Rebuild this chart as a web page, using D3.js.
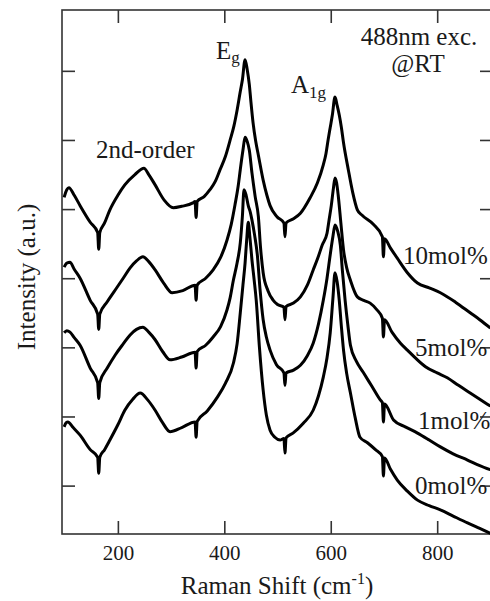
<!DOCTYPE html>
<html>
<head>
<meta charset="utf-8">
<script src="https://cdn.jsdelivr.net/npm/d3@7"></script>
<style>
  body { margin: 0; background: #fff; }
</style>
</head>
<body>
<svg id="chart" width="490" height="601"></svg>
<script>
// Raman shift (cm-1) vs intensity (a.u., offset)
const s10 = [[99,4.17],[104,4.28],[108,4.31],[118,4.20],[129,4.05],[148,3.81],[162,3.66],[164,3.42],[166,3.66],[175,3.80],[185,3.99],[200,4.20],[213,4.35],[232,4.50],[249,4.59],[258,4.50],[270,4.35],[287,4.13],[304,4.02],[320,4.04],[341,4.09],[345,4.11],[347,3.88],[349,4.11],[362,4.18],[373,4.28],[383,4.40],[392,4.57],[402,4.76],[411,5.00],[418,5.20],[424,5.43],[430,5.70],[434,5.87],[439,6.16],[443,6.02],[447,5.80],[450,5.55],[454,5.25],[459,4.98],[464,4.78],[473,4.42],[480,4.20],[486,4.05],[499,3.89],[512,3.80],[514,3.60],[516,3.80],[530,3.86],[543,3.94],[561,4.16],[575,4.38],[586,4.64],[591,4.80],[595,5.00],[599,5.18],[603,5.36],[608,5.62],[612,5.50],[616,5.36],[620,5.18],[624,4.96],[633,4.57],[641,4.25],[650,3.99],[659,3.91],[680,3.78],[697,3.60],[699,3.31],[701,3.57],[712,3.44],[725,3.29],[744,3.08],[763,2.93],[785,2.86],[806,2.79],[835,2.65],[862,2.50],[880,2.40],[900,2.28]];
const s5 = [[99,3.16],[104,3.22],[110,3.23],[118,3.13],[129,3.00],[148,2.68],[162,2.48],[164,2.26],[166,2.48],[180,2.66],[195,2.83],[210,3.00],[223,3.15],[235,3.25],[247,3.31],[258,3.24],[270,3.12],[286,2.93],[302,2.79],[322,2.82],[345,2.90],[347,2.68],[349,2.90],[365,3.00],[379,3.12],[393,3.30],[405,3.55],[413,3.78],[420,4.06],[426,4.33],[430,4.57],[435,4.85],[439,5.04],[443,4.98],[447,4.85],[452,4.52],[458,4.18],[464,3.89],[468,3.45],[473,3.08],[482,2.82],[492,2.68],[500,2.62],[512,2.58],[514,2.40],[516,2.59],[530,2.64],[543,2.73],[556,2.90],[567,3.12],[576,3.30],[584,3.48],[593,3.65],[597,3.85],[601,4.05],[605,4.30],[608,4.45],[611,4.38],[614,4.20],[619,3.80],[624,3.41],[630,3.15],[637,2.97],[650,2.73],[662,2.68],[674,2.64],[686,2.55],[697,2.42],[699,2.15],[701,2.40],[715,2.22],[731,2.06],[744,1.96],[760,1.84],[778,1.72],[800,1.63],[819,1.56],[840,1.45],[862,1.34],[880,1.25],[900,1.15]];
const s1 = [[99,2.21],[104,2.24],[110,2.22],[118,2.14],[129,2.03],[148,1.70],[162,1.49],[164,1.26],[166,1.49],[180,1.70],[195,1.89],[210,2.05],[223,2.18],[235,2.26],[247,2.29],[258,2.22],[270,2.11],[284,1.94],[298,1.82],[320,1.86],[345,1.93],[347,1.70],[349,1.94],[365,2.03],[379,2.15],[393,2.30],[405,2.54],[411,2.72],[417,2.97],[424,3.22],[430,3.51],[434,3.90],[437,4.28],[441,4.20],[445,4.05],[449,3.95],[452,3.84],[457,3.62],[462,3.34],[467,2.85],[473,2.40],[479,2.15],[486,1.96],[498,1.75],[512,1.63],[514,1.45],[516,1.63],[530,1.67],[543,1.74],[556,1.88],[567,2.06],[577,2.34],[586,2.68],[593,3.00],[599,3.34],[604,3.60],[608,3.77],[613,3.68],[618,3.48],[622,3.10],[627,2.68],[632,2.33],[637,2.03],[648,1.80],[661,1.64],[677,1.44],[693,1.24],[697,1.20],[699,0.92],[701,1.18],[718,0.95],[740,0.85],[763,0.76],[785,0.66],[806,0.56],[830,0.46],[857,0.37],[880,0.29],[900,0.23]];
const s0 = [[99,0.85],[103,0.91],[106,0.92],[116,0.84],[129,0.73],[148,0.52],[162,0.41],[164,0.18],[166,0.41],[175,0.52],[185,0.66],[200,0.88],[213,1.09],[228,1.25],[242,1.34],[256,1.24],[270,1.09],[284,0.91],[298,0.78],[320,0.84],[345,0.92],[347,0.70],[349,0.93],[368,1.08],[387,1.28],[402,1.48],[417,1.77],[424,2.05],[430,2.50],[435,2.90],[439,3.22],[442,3.55],[445,3.81],[448,3.60],[452,3.26],[456,2.98],[460,2.68],[466,2.00],[473,1.38],[479,1.02],[486,0.80],[495,0.70],[505,0.66],[512,0.68],[514,0.47],[516,0.69],[529,0.76],[548,0.90],[567,1.09],[577,1.30],[586,1.57],[593,1.85],[599,2.21],[604,2.70],[608,3.08],[612,2.95],[616,2.68],[620,2.30],[624,1.96],[630,1.62],[637,1.34],[646,0.98],[655,0.70],[669,0.62],[684,0.52],[697,0.42],[699,0.14],[701,0.40],[712,0.24],[725,0.08],[744,-0.08],[763,-0.21],[785,-0.29],[806,-0.35],[830,-0.44],[857,-0.54],[880,-0.62],[900,-0.69]];

const seriesNames = ["10mol%", "5mol%", "1mol%", "0mol%"];
const xTicks = [200, 400, 600, 800];
const yTicks = [0, 1, 2, 3, 4, 5, 6];

function drawing_chart() {
    const svg = d3.select("#chart");
    const margin = {left: 62, top: 10, right: 491, bottom: 534};
    const ink = "#1a1a1a";
    const serif = "'Liberation Serif', 'Times New Roman', Times, serif";

    const x = d3.scaleLinear().domain([95, 900]).range([margin.left, 490.4]);
    const y = d3.scaleLinear().domain([-0.7, 6.88]).range([margin.bottom, margin.top]);

    // frame
    svg.append("rect")
        .attr("x", margin.left)
        .attr("y", margin.top)
        .attr("width", margin.right - margin.left)
        .attr("height", margin.bottom - margin.top)
        .attr("fill", "none")
        .attr("stroke", "#333")
        .attr("stroke-width", 1.6);

    // inward ticks on all four sides
    const tl = 13;
    svg.append("g")
        .attr("transform", `translate(0,${margin.bottom})`)
        .call(d3.axisBottom(x).tickValues(xTicks).tickSizeInner(-tl).tickSizeOuter(0).tickPadding(11))
        .call(g => g.select(".domain").remove())
        .call(g => g.selectAll("line").attr("stroke", "#333").attr("stroke-width", 1.6))
        .call(g => g.selectAll("text").attr("fill", ink).attr("font-size", 21).style("font-family", serif));

    svg.append("g")
        .attr("transform", `translate(0,${margin.top})`)
        .call(d3.axisTop(x).tickValues(xTicks).tickSizeInner(-tl).tickSizeOuter(0).tickFormat(""))
        .call(g => g.select(".domain").remove())
        .call(g => g.selectAll("line").attr("stroke", "#333").attr("stroke-width", 1.6));

    svg.append("g")
        .attr("transform", `translate(${margin.left},0)`)
        .call(d3.axisLeft(y).tickValues(yTicks).tickSizeInner(-tl).tickSizeOuter(0).tickFormat(""))
        .call(g => g.select(".domain").remove())
        .call(g => g.selectAll("line").attr("stroke", "#333").attr("stroke-width", 1.6));

    svg.append("g")
        .attr("transform", `translate(${490},0)`)
        .call(d3.axisRight(y).tickValues(yTicks).tickSizeInner(-10).tickSizeOuter(0).tickFormat(""))
        .call(g => g.select(".domain").remove())
        .call(g => g.selectAll("line").attr("stroke", "#333").attr("stroke-width", 1.6));

    // spectra
    const line = d3.line()
        .curve(d3.curveMonotoneX)
        .x(d => x(d[0]))
        .y(d => y(d[1]));

    svg.append("g")
        .selectAll("path")
        .data([s10, s5, s1, s0])
        .enter()
        .append("path")
        .attr("d", line)
        .attr("fill", "none")
        .attr("stroke", "#000")
        .attr("stroke-width", 3)
        .attr("stroke-linejoin", "round");

    // series labels
    const labelPos = [[403, 264], [415, 356], [418, 429], [415, 494]];
    svg.append("g")
        .selectAll("text")
        .data(seriesNames)
        .enter()
        .append("text")
        .attr("x", (d, i) => labelPos[i][0])
        .attr("y", (d, i) => labelPos[i][1])
        .style("font-family", serif)
        .attr("font-size", 25)
        .attr("fill", ink)
        .text(d => d);

    // annotations
    const note = (tx, ty, anchor) => svg.append("text")
        .attr("x", tx).attr("y", ty)
        .attr("text-anchor", anchor)
        .style("font-family", serif)
        .attr("font-size", 25).attr("fill", ink);

    note(96, 158, "start").text("2nd-order");

    let eg = note(216, 59, "start");
    eg.append("tspan").text("E");
    eg.append("tspan").attr("font-size", 17).attr("dy", 4).text("g");

    let a1g = note(291, 93, "start");
    a1g.append("tspan").text("A");
    a1g.append("tspan").attr("font-size", 17).attr("dy", 5).text("1g");

    note(419, 45, "middle").text("488nm exc.");
    note(418, 72, "middle").text("@RT");

    // axis titles
    let xt = note(277, 594, "middle");
    xt.append("tspan").text("Raman Shift (cm");
    xt.append("tspan").attr("font-size", 16).attr("dy", -10).text("-1");
    xt.append("tspan").attr("dy", 10).text(")");

    note(0, 0, "middle")
        .attr("transform", "translate(35,277) rotate(-90)")
        .text("Intensity (a.u.)");
}

drawing_chart();
</script>
</body>
</html>
